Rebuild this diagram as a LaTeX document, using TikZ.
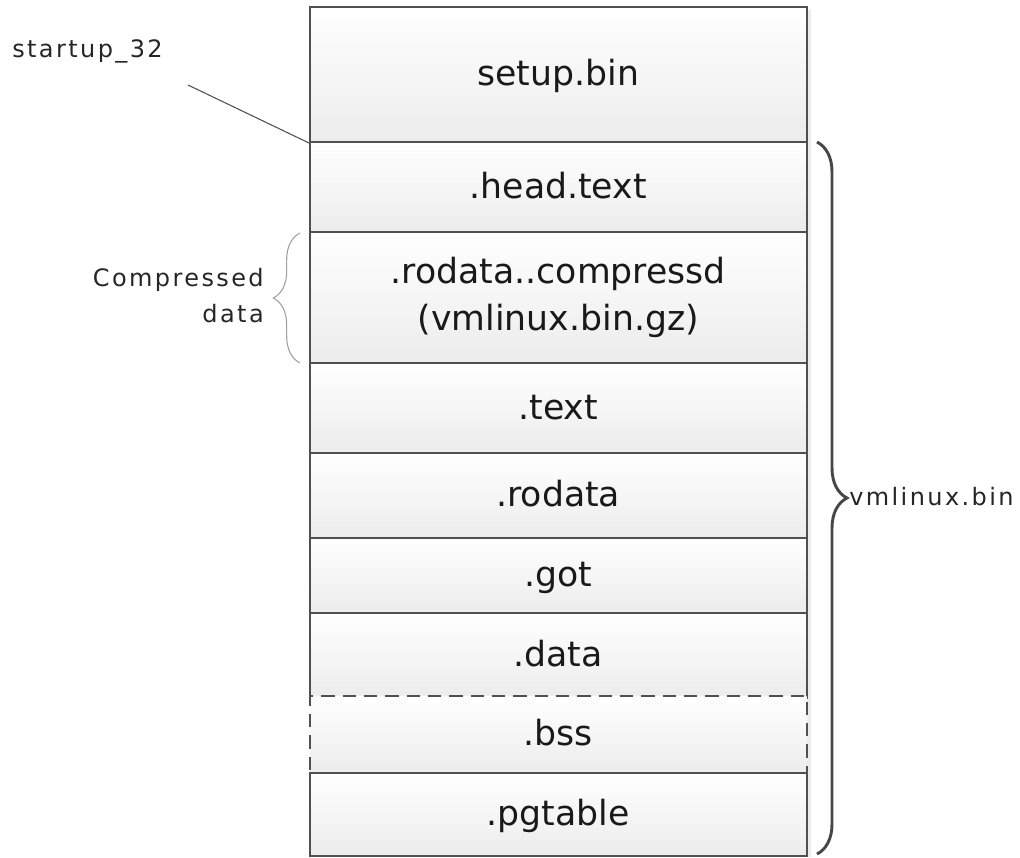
\documentclass[tikz,border=0pt]{standalone}
\usepackage{fontspec}
\setmainfont{DejaVu Sans}
\newfontfamily\lblfont[LetterSpace=10]{DejaVu Sans}
\usetikzlibrary{decorations.pathreplacing}
\definecolor{edge}{HTML}{505050}
\begin{document}
\begin{tikzpicture}[x=0.75pt,y=-0.75pt,
  cell/.style={draw=edge, line width=1.5pt, top color=white, bottom color=gray!15,
    minimum width=372.4pt, inner sep=0pt, text=black!90,
    font=\fontsize{26pt}{35pt}\selectfont},
  one/.style={text height=16.5pt, text depth=0pt},
  lbl/.style={font=\lblfont\fontsize{18pt}{27pt}\selectfont, inner sep=0pt, text=black!85}
]
\useasboundingbox (0,0) rectangle (1020,857);
% faint shadow at the right of the stack
\fill[gray!15] (807,10) rectangle (811,857);
% cells
\node[cell, one, minimum height=101.25pt] (setup) at (558.25,74.5) {setup.bin};
\node[cell, one, minimum height=67.5pt] (head) at (558.25,187) {.head.text};
\node[cell, align=center, minimum height=98.25pt] (rodc) at (558.25,297.5) {.rodata..compressd\\(vmlinux.bin.gz)};
\node[cell, one, minimum height=67.5pt] (text) at (558.25,408) {.text};
\node[cell, one, minimum height=63.75pt] (rodata) at (558.25,495.5) {.rodata};
\node[cell, one, minimum height=56.25pt] (got) at (558.25,575.5) {.got};
\node[cell, one, minimum height=63.75pt] (data) at (558.25,655.5) {.data};
\node[cell, one, dash pattern=on 10pt off 6pt, minimum height=57.75pt] (bss) at (558.25,734.5) {.bss};
\node[cell, one, minimum height=62.25pt] (pgt) at (558.25,814.5) {.pgtable};
% startup_32 label and leader
\node[lbl, anchor=base west] (start) at (12,57) {startup\_32};
\coordinate (lead) at (188,85);
\draw[edge, line width=0.8pt] (lead) -- (setup.south west);
% compressed data brace
\coordinate (ctop) at (300,233);
\coordinate (cbot) at (300,363);
\draw[decorate, decoration={brace, amplitude=20pt}, line width=0.8pt, draw=gray!75] (cbot) -- (ctop);
\node[lbl, anchor=east, align=right] (comp) at (264,296) {Compressed\\data};
% vmlinux.bin brace
\coordinate (vtop) at (817,142);
\coordinate (vbot) at (817,854);
\draw[decorate, decoration={brace, amplitude=22.5pt}, line width=2.2pt, draw=black!72] (vtop) -- (vbot);
\node[lbl, anchor=west] (vml) at (849,497) {vmlinux.bin};
\end{tikzpicture}
\end{document}
